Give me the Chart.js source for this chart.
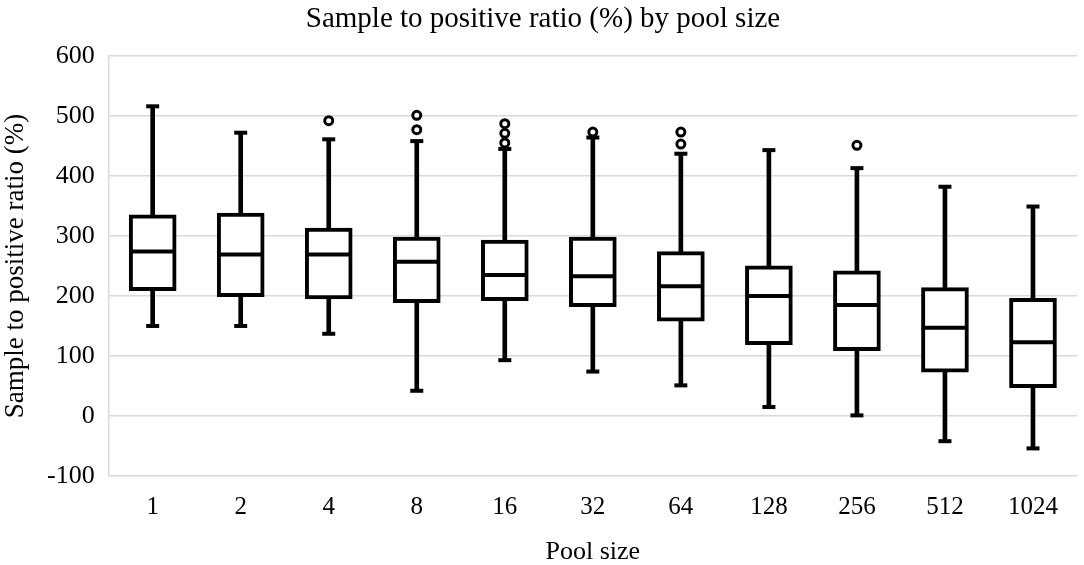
<!DOCTYPE html>
<html>
<head>
<meta charset="utf-8">
<script src="https://cdn.jsdelivr.net/npm/chart.js@4"></script>
<style>
  body { margin: 0; background: #fff; }
  #wrap { width: 1084px; height: 565px; }
</style>
</head>
<body>
<div id="wrap"><canvas id="chart" width="1084" height="565"></canvas></div>
<script>
// Pool sizes (categories)
const poolSizes = ["1", "2", "4", "8", "16", "32", "64", "128", "256", "512", "1024"];

// Box plot statistics
const whiskerLow = [150, 150, 137, 42, 93, 74, 51, 15, 1, -42, -54];
const q1 = [209, 199, 195, 189, 192, 182, 158, 119, 109, 73, 47];
const median = [274, 269, 269, 257, 235, 233, 216, 200, 185, 147, 123];
const q3 = [335, 338, 313, 298, 293, 298, 274, 250, 242, 214, 196];
const whiskerHigh = [516, 472, 461, 458, 445, 464, 437, 443, 413, 382, 349];

// Outliers: category + value
const outlierCats = ["4", "8", "8", "16", "16", "16", "32", "64", "64", "256"];
const outlierVals = [492, 501, 477, 487, 471, 455, 473, 473, 453, 451];

const yTicks = [-100, 0, 100, 200, 300, 400, 500, 600];

const FONT = "'Liberation Serif', 'Times New Roman', serif";

// Median lines and whisker caps drawn through the chart's scales
const boxExtras = {
  id: "boxExtras",
  afterDatasetsDraw(chart) {
    const ctx = chart.ctx;
    const xs = chart.scales.x;
    const ys = chart.scales.y;
    ctx.save();
    ctx.strokeStyle = "#000";
    ctx.lineCap = "butt";
    poolSizes.forEach((p, i) => {
      const cx = xs.getPixelForValue(i);
      // median
      ctx.lineWidth = 4;
      ctx.beginPath();
      ctx.moveTo(cx - 22, ys.getPixelForValue(median[i]));
      ctx.lineTo(cx + 22, ys.getPixelForValue(median[i]));
      ctx.stroke();
      // caps
      [whiskerLow[i], whiskerHigh[i]].forEach((v) => {
        ctx.beginPath();
        ctx.moveTo(cx - 6.5, ys.getPixelForValue(v));
        ctx.lineTo(cx + 6.5, ys.getPixelForValue(v));
        ctx.stroke();
      });
    });
    ctx.restore();
  },
};

document.addEventListener("DOMContentLoaded", function () {
  Chart.defaults.font.family = FONT;
  Chart.defaults.color = "#000";

  const ctx = document.getElementById("chart").getContext("2d");
  new Chart(ctx, {
    type: "bar",
    data: {
      labels: poolSizes,
      datasets: [
        {
          type: "line",
          label: "Outliers",
          data: outlierCats.map((c, i) => ({ x: c, y: outlierVals[i] })),
          showLine: false,
          pointRadius: 4,
          pointBorderWidth: 3,
          pointBorderColor: "#000",
          pointBackgroundColor: "#fff",
          order: 0,
        },
        {
          label: "Box",
          data: q1.map((v, i) => [v, q3[i]]),
          backgroundColor: "#fff",
          borderColor: "#000",
          borderWidth: 4,
          borderSkipped: false,
          barThickness: 47,
          order: 1,
        },
        {
          label: "Whisker",
          data: whiskerLow.map((v, i) => [v, whiskerHigh[i]]),
          backgroundColor: "#000",
          borderWidth: 0,
          barThickness: 4,
          order: 2,
        },
      ],
    },
    options: {
      responsive: false,
      animation: false,
      devicePixelRatio: 1,
      layout: { padding: { left: 2, right: 0, top: 3, bottom: 0 } },
      datasets: { bar: { grouped: false } },
      plugins: {
        legend: { display: false },
        tooltip: { enabled: false },
        title: {
          display: true,
          text: "Sample to positive ratio (%) by pool size",
          font: { family: FONT, size: 29, weight: "normal", lineHeight: 1.1 },
          color: "#000",
          padding: { top: 0, bottom: 21 },
        },
      },
      scales: {
        x: {
          grid: { display: false, drawTicks: false },
          border: { display: false },
          ticks: { font: { size: 25, lineHeight: 1.0 }, color: "#000", padding: 19 },
          title: {
            display: true,
            text: "Pool size",
            font: { size: 26, lineHeight: 1.0 },
            color: "#000",
            padding: { top: 0, bottom: 0 },
          },
        },
        y: {
          min: -100,
          max: 600,
          afterBuildTicks: (axis) => {
            axis.ticks = yTicks.map((v) => ({ value: v }));
          },
          grid: { color: "#d9d9d9", lineWidth: 1.5, drawTicks: false },
          border: { display: true, color: "#d9d9d9", width: 1.5 },
          ticks: { font: { size: 26 }, color: "#000", padding: 14 },
          title: {
            display: true,
            text: "Sample to positive ratio (%)",
            font: { size: 27, lineHeight: 1.0 },
            color: "#000",
            padding: { top: 0, bottom: 4 },
          },
        },
      },
    },
    plugins: [boxExtras],
  });
});
</script>
</body>
</html>
